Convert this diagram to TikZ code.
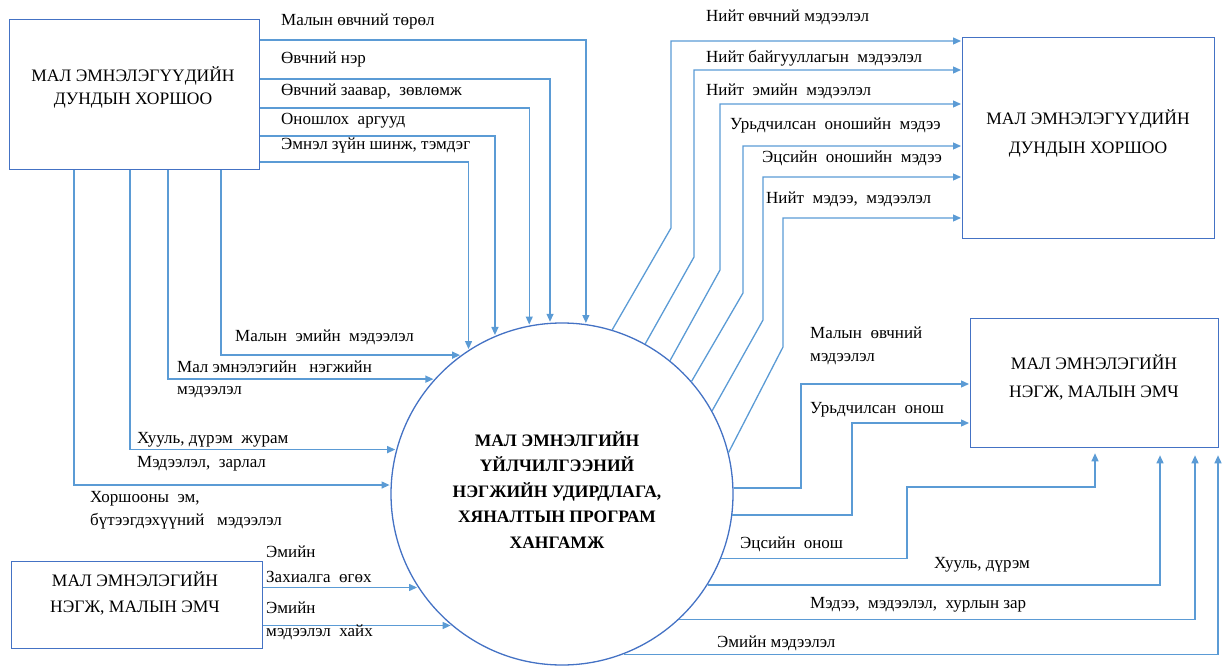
\documentclass[tikz,border=0pt]{standalone}
\usepackage{fontspec}
\setmainfont{Liberation Serif}
\usetikzlibrary{arrows.meta}
\definecolor{ln}{HTML}{5B9BD5}
\definecolor{bx}{HTML}{4472C4}
\begin{document}
\begin{tikzpicture}[x=1pt,y=-1pt,
  lbl/.style={font=\fontsize{17}{23}\selectfont, inner sep=0pt, anchor=west, align=left},
  boxtext/.style={font=\fontsize{17.5}{26}\selectfont, inner sep=0pt, align=center},
  box/.style={draw=bx, line width=1.3pt, fill=white, inner sep=0pt, anchor=north west},
  flow/.style={draw=ln, line width=1.3pt, -{Triangle[length=8pt,width=7pt]}, shorten >=1pt}]
\useasboundingbox (0,0) rectangle (1222,668);
% boxes
\node[box, minimum width=250pt, minimum height=150pt] (tl) at (9,19) {};
\node[boxtext, font=\fontsize{17.5}{23}\selectfont] (tlt) at (133,87) {МАЛ ЭМНЭЛЭГҮҮДИЙН\\ДУНДЫН ХОРШОО};
\node[box, minimum width=252pt, minimum height=201pt] (tr) at (962,37) {};
\node[boxtext, font=\fontsize{17.5}{29}\selectfont] (trt) at (1088,133) {МАЛ ЭМНЭЛЭГҮҮДИЙН\\ДУНДЫН ХОРШОО};
\node[box, minimum width=248pt, minimum height=129pt] (mr) at (970,318) {};
\node[boxtext, font=\fontsize{17.5}{28}\selectfont] (mrt) at (1094,377) {МАЛ ЭМНЭЛЭГИЙН\\НЭГЖ, МАЛЫН ЭМЧ};
\node[box, minimum width=251pt, minimum height=87pt] (bl) at (11,561) {};
\node[boxtext, font=\fontsize{17.5}{26}\selectfont] (blt) at (135,593) {МАЛ ЭМНЭЛЭГИЙН\\НЭГЖ, МАЛЫН ЭМЧ};
% circle
\node[circle, draw=bx, line width=1.3pt, minimum size=342pt, inner sep=0pt] (c) at (562,494) {};
\node[font=\fontsize{17.5}{25.5}\selectfont\bfseries, align=center, inner sep=0pt] (ct) at (557,490)
  {МАЛ ЭМНЭЛГИЙН\\ҮЙЛЧИЛГЭЭНИЙ\\НЭГЖИЙН УДИРДЛАГА,\\ХЯНАЛТЫН ПРОГРАМ\\ХАНГАМЖ};
% top-left box -> circle (from right side)
\draw[flow] (tl.east |- 0,40) -| (c.82.1);
\draw[flow] (tl.east |- 0,79) -| (c.94.4);
\draw[flow] (tl.east |- 0,108) -| (c.101.8);
\draw[flow] (tl.east |- 0,136) -| (c.113.4);
\draw[flow] (tl.east |- 0,162) -| (c.123.3);
\node[lbl] (l1) at (281,21) {Малын өвчний төрөл};
\node[lbl] (l2) at (281,59) {Өвчний нэр};
\node[lbl] (l3) at (281,91) {Өвчний заавар,\ \ зөвлөмж};
\node[lbl] (l4) at (281,121) {Оношлох\ \ аргууд};
\node[lbl] (l5) at (281,145) {Эмнэл зүйн шинж, тэмдэг};
% top-left box -> circle (from bottom side)
\draw[flow] (tl.south -| 221,0) |- (c.126.2);
\draw[flow] (tl.south -| 168,0) |- (c.138.6);
\draw[flow] (tl.south -| 130,0) |- (c.165.8);
\draw[flow] (tl.south -| 74,0) |- (c.177.3);
\node[lbl] (l6) at (235,337) {Малын\ \ эмийн\ \ мэдээлэл};
\node[lbl] (l7) at (177,367) {Мал эмнэлэгийн\ \ \ нэгжийн};
\node[lbl] (l7b) at (177,392) {мэдээлэл};
\node[lbl] (l8) at (137,440) {Хууль, дүрэм\ \ журам};
\node[lbl] (l8b) at (137,464) {Мэдээлэл,\ \ зарлал};
\node[lbl, anchor=north west] (l9) at (90,491) {Хоршооны\ \ эм,\\бүтээгдэхүүний\ \ \ мэдээлэл};
% bottom-left box -> circle
\draw[flow] (bl.east |- c.213.75) -- (c.213.75);
\draw[flow] (bl.east |- c.230) -- (c.230);
\node[lbl] (l10) at (266,552) {Эмийн};
\node[lbl] (l10b) at (266,577) {Захиалга\ \ өгөх};
\node[lbl] (l11) at (266,608) {Эмийн};
\node[lbl] (l11b) at (266,632) {мэдээлэл\ \ хайх};
% circle -> top-right box
\draw[flow] (c.73) -- (671,228) |- (tr.west |- 0,41);
\draw[flow] (c.61.3) -- (694,257) |- (tr.west |- 0,70);
\draw[flow] (c.51.7) -- (720,270) |- (tr.west |- 0,104);
\draw[flow] (c.41) -- (743,293) |- (tr.west |- 0,146);
\draw[flow] (c.29.2) -- (763,320) |- (tr.west |- 0,177);
\draw[flow] (c.14.7) -- (783,347) |- (tr.west |- 0,218);
\node[lbl] (r1) at (706,17) {Нийт өвчний мэдээлэл};
\node[lbl] (r2) at (706,58) {Нийт байгууллагын\ \ мэдээлэл};
\node[lbl] (r3) at (706,91) {Нийт\ \ эмийн\ \ мэдээлэл};
\node[lbl] (r4) at (730,125) {Урьдчилсан\ \ оношийн\ \ мэдээ};
\node[lbl] (r5) at (762,158) {Эцсийн\ \ оношийн\ \ мэдээ};
\node[lbl] (r6) at (766,199) {Нийт\ \ мэдээ,\ \ мэдээлэл};
% circle -> middle-right box
\draw[flow] (c.2.3) -| (801,384) -- (mr.west |- 0,384);
\draw[flow] (c.-7.7) -| (852,423) -- (mr.west |- 0,423);
\draw[flow, shorten >=5pt] (c.-22.7) -| (907,487) -| (mr.south -| 1095,0);
\draw[flow, shorten >=7pt] (c.-32.2) -| (mr.south -| 1160,0);
\draw[flow, shorten >=7pt] (c.-47) -| (mr.south -| 1195,0);
\draw[flow, shorten >=7pt] (c.-69.3) -| (mr.south -| 1218,0);
\node[lbl, anchor=north west] (m1) at (810,327) {Малын\ \ өвчний\\мэдээлэл};
\node[lbl] (m2) at (810,410) {Урьдчилсан\ \ онош};
\node[lbl] (m3) at (740,544) {Эцсийн\ \ онош};
\node[lbl] (m4) at (934,565) {Хууль,\ дүрэм};
\node[lbl] (m5) at (810,605) {Мэдээ,\ \ мэдээлэл,\ \ хурлын зар};
\node[lbl] (m6) at (717,643) {Эмийн мэдээлэл};
\end{tikzpicture}
\end{document}
